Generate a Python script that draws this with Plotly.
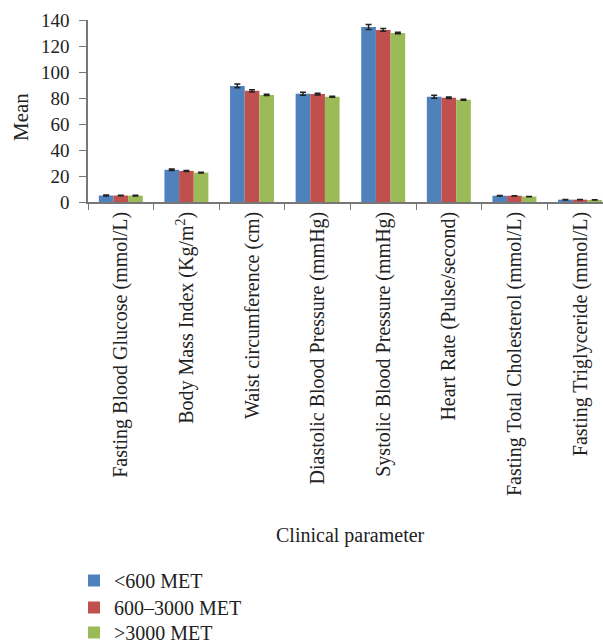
import plotly.graph_objects as go

categories = [
    "Fasting Blood Glucose (mmol/L)",
    "Body Mass Index (Kg/m<sup>2</sup>)",
    "Waist circumference (cm)",
    "Diastolic Blood Pressure (mmHg)",
    "Systolic Blood Pressure (mmHg)",
    "Heart Rate (Pulse/second)",
    "Fasting Total Cholesterol (mmol/L)",
    "Fasting Triglyceride (mmol/L)",
]
series_names = ["<600 MET", "600\u20133000 MET", ">3000 MET"]
low_vals = [5.0, 24.8, 89.3, 83.3, 134.6, 81.0, 4.8, 1.8]
mid_vals = [5.0, 23.9, 85.5, 83.0, 132.4, 80.2, 4.8, 1.8]
high_vals = [4.9, 22.6, 82.4, 81.0, 130.0, 78.7, 4.2, 1.6]
low_err = [0.3, 0.6, 1.5, 1.2, 1.9, 1.1, 0.2, 0.2]
mid_err = [0.2, 0.4, 0.8, 0.6, 1.1, 0.6, 0.1, 0.1]
high_err = [0.2, 0.3, 0.5, 0.4, 0.6, 0.4, 0.1, 0.1]
colors = ["#4F81BD", "#C0504D", "#9BBB59"]

FONT = "Liberation Serif"
W, H = 603, 643
L = 88
PLOT_TOP, PLOT_BOT = 20, 202
PH = PLOT_BOT - PLOT_TOP
legend_tops = [561, 588, 613]
legend_ids = ["legend", "legend2", "legend3"]

fig = go.Figure()
for name, vals, errs, c, lg in zip(series_names, [low_vals, mid_vals, high_vals],
                                   [low_err, mid_err, high_err], colors, legend_ids):
    fig.add_trace(go.Bar(
        x=categories, y=vals, name=name, legend=lg,
        marker=dict(color=c, line=dict(width=0)),
        error_y=dict(type="data", array=errs, color="#222222", thickness=1.5, width=3),
    ))

legend_common = dict(xref="container", yref="container", x=74 / W,
                     xanchor="left", yanchor="top", font=dict(family=FONT, size=20),
                     itemwidth=30, bgcolor="rgba(0,0,0,0)")
layout_legends = {lg: dict(legend_common, y=1 - t / H) for lg, t in zip(legend_ids, legend_tops)}

fig.update_layout(
    width=W, height=H,
    margin=dict(l=L, r=0, t=PLOT_TOP, b=H - PLOT_BOT, autoexpand=False),
    plot_bgcolor="white", paper_bgcolor="white",
    barmode="group", bargap=0.33, bargroupgap=0,
    font=dict(family=FONT, size=20, color="#222222"),
    showlegend=True,
    annotations=[
        dict(text="Clinical parameter", xref="paper", yref="paper",
             x=(350 - L) / (W - L), y=(PLOT_BOT - 535) / PH, xanchor="center", yanchor="middle",
             showarrow=False, font=dict(family=FONT, size=20)),
        dict(text="Mean", xref="paper", yref="paper", textangle=-90,
             x=(21 - L) / (W - L), y=(PLOT_BOT - 117) / PH, xanchor="center", yanchor="middle",
             showarrow=False, font=dict(family=FONT, size=21)),
    ],
    **layout_legends,
)
fig.update_xaxes(
    type="category", range=[-0.5, 7.35], tickangle=-90, tickson="boundaries",
    ticks="outside", ticklen=6, tickcolor="#777777",
    showline=True, linecolor="#777777", linewidth=1.5, showgrid=False,
    tickfont=dict(family=FONT, size=20), ticklabeloverflow="allow",
)
fig.update_yaxes(
    range=[0, 140], dtick=20, ticks="outside", ticklen=7, tickcolor="#777777",
    showline=True, linecolor="#777777", linewidth=1.5, showgrid=False, zeroline=False,
    tickfont=dict(family=FONT, size=19), ticklabelstandoff=6,
)
fig.write_html("out.html", config={"displayModeBar": False},
               post_script="document.body.style.margin='0';")
